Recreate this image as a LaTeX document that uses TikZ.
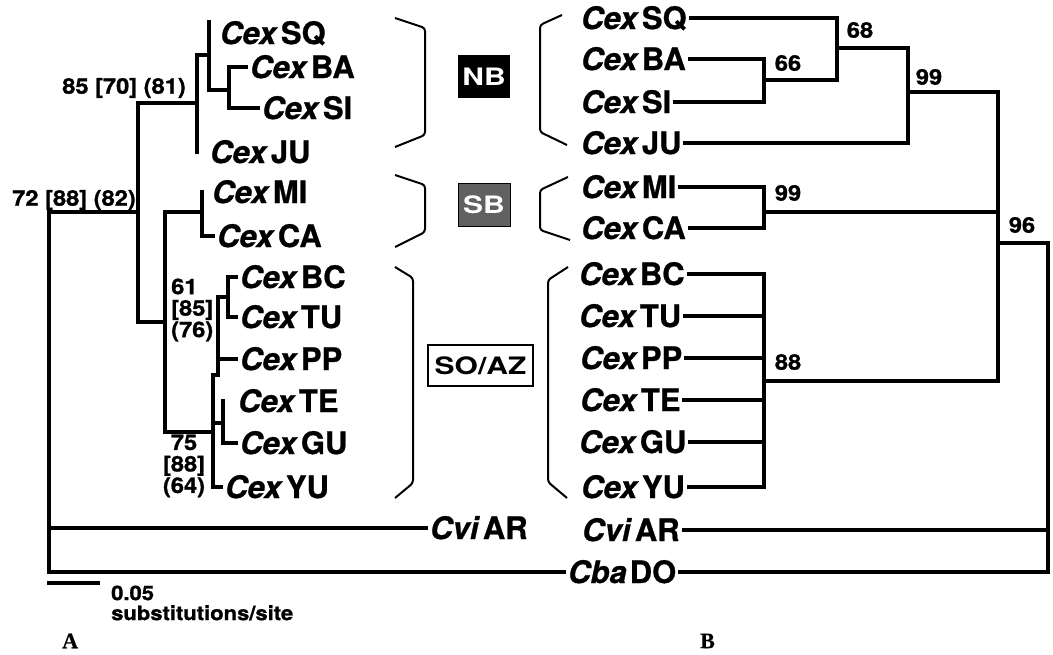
\documentclass[tikz,border=0pt]{standalone}
\usepackage{fontspec}
\setmainfont{TeX Gyre Heros}[BoldFeatures={FakeBold=0.8}, BoldItalicFeatures={FakeBold=0.8}]
\newfontfamily\widefont{TeX Gyre Heros}[FakeStretch=1.1, BoldFeatures={FakeBold=1.2}]
\newfontfamily\boxfont{TeX Gyre Heros}[FakeStretch=1.25]
\newfontfamily\panelfont{Liberation Serif Bold}[FakeBold=0.6]
\newcommand{\taxon}[2]{\textit{#1}\hspace{3pt}#2}

\begin{document}
\begin{tikzpicture}[x=1pt, y=-1pt,
  leaf/.style={font=\fontsize{31}{31}\selectfont\bfseries, anchor=west,
    inner xsep=4pt, inner ysep=0pt, text height=22pt, text depth=0pt},
  boot/.style={font=\widefont\fontsize{21.5}{21.5}\selectfont\bfseries, inner sep=0pt},
  branchA/.style={line width=3.2pt, line cap=rect},
  branchB/.style={line width=4.5pt, line cap=rect},
  brace/.style={line width=2pt, rounded corners=3pt},
  clade/.style={font=\boxfont\fontsize{24}{24}\selectfont\bfseries,
    minimum width=52pt, minimum height=43pt, inner sep=0pt}]
  \useasboundingbox (0,0) rectangle (1053,654);

  % Tree A: leaves
  \node[leaf] (lSQ) at (216,33) {\taxon{Cex}{SQ}};
  \node[leaf] (lBA) at (246,67) {\taxon{Cex}{BA}};
  \node[leaf] (lSI) at (258,108) {\taxon{Cex}{SI}};
  \node[leaf] (lJU) at (206,152) {\taxon{Cex}{JU}};
  \node[leaf] (lMI) at (208,192) {\taxon{Cex}{MI}};
  \node[leaf] (lCA) at (213,236) {\taxon{Cex}{CA}};
  \node[leaf] (lBC) at (236,277) {\taxon{Cex}{BC}};
  \node[leaf] (lTU) at (236,317) {\taxon{Cex}{TU}};
  \node[leaf] (lPP) at (236,359) {\taxon{Cex}{PP}};
  \node[leaf] (lTE) at (234,401) {\taxon{Cex}{TE}};
  \node[leaf] (lGU) at (236,443) {\taxon{Cex}{GU}};
  \node[leaf] (lYU) at (221,487) {\taxon{Cex}{YU}};
  \node[leaf] (lCvi) at (426,528) {\taxon{Cvi}{AR}};
  \node[leaf] (CbaDO) at (564,572) {\taxon{Cba}{DO}};

  % Tree A: internal nodes
  \coordinate (rootA) at (49,212);
  \coordinate (n72) at (138,212);
  \coordinate (n85) at (197,103);
  \coordinate (nSQBA) at (209,55);
  \coordinate (nBASI) at (229,90);
  \coordinate (nSOSB) at (165,322);
  \coordinate (nSB) at (202,212);
  \coordinate (n75) at (213,432);
  \coordinate (n61) at (218,375);
  \coordinate (nBCTU) at (228,297);
  \coordinate (nTEGU) at (223,423);

  % Tree A: branches
  \draw[branchA] (n72) -- (rootA) |- (CbaDO.west);
  \draw[branchA] (rootA |- lCvi.west) -- (lCvi.west);
  \draw[branchA] (n85) -| (n72) |- (nSOSB);
  \draw[branchA] (nSQBA) -| (n85) -- (n85 |- lJU.west);
  \draw[branchA] (nSQBA |- lSQ.north) |- (nBASI);
  \draw[branchA] (lBA.west) -| (nBASI) |- (lSI.west);
  \draw[branchA] (nSB) -| (nSOSB) |- (n75);
  \draw[branchA] (nSB |- lMI.west) |- (lCA.west);
  \draw[branchA] (n61) -- (n61 -| n75) |- (lYU.west);
  \draw[branchA] (n75 |- nTEGU) -- (nTEGU);
  \draw[branchA] (nBCTU) -| (n61);
  \draw[branchA] (n61 |- lPP.west) -- (lPP.west);
  \draw[branchA] (lBC.west) -| (nBCTU) |- (lTU.west);
  \draw[branchA] (nTEGU |- lTE.west) |- (lGU.west);

  % Tree A: support values
  \node[boot, anchor=east] (b72) at (136,200) {72 [88] (82)};
  \node[boot, anchor=east] (b85) at (186,88) {85 [70] (81)};
  \node[boot, anchor=west, align=left] (b61) at (171,310) {61\\{[85]}\\(76)};
  \node[boot, align=center] (b75) at (184,466) {75\\{[88]}\\(64)};

  % Groups
  \draw[brace] (395,18) -- (425,28) -- (425,135) -- (395,147);
  \draw[brace] (562,15) -- (540,25) -- (540,132) -- (567,145);
  \draw[brace] (395,175) -- (425,185) -- (425,232) -- (395,247);
  \draw[brace] (568,177) -- (540,190) -- (540,230) -- (570,240);
  \draw[brace] (395,267) -- (413,278) -- (413,483) -- (395,498);
  \draw[brace] (568,267) -- (548,280) -- (548,482) -- (567,498);
  \node[clade, fill=black, text=white] (NB) at (484,76.5) {NB};
  \node[clade, fill=black!62, draw=black, line width=1pt, text=white] (SB) at (484,204.5) {SB};
  \node[clade, draw=black, line width=1.5pt, minimum width=105pt, minimum height=41pt] (SOAZ) at (480.5,365.5) {SO/AZ};

  % Tree B: leaves
  \node[leaf] (rSQ) at (577,18) {\taxon{Cex}{SQ}};
  \node[leaf] (rBA) at (577,59) {\taxon{Cex}{BA}};
  \node[leaf] (rSI) at (577,102) {\taxon{Cex}{SI}};
  \node[leaf] (rJU) at (577,143) {\taxon{Cex}{JU}};
  \node[leaf] (rMI) at (577,187) {\taxon{Cex}{MI}};
  \node[leaf] (rCA) at (577,228) {\taxon{Cex}{CA}};
  \node[leaf] (rBC) at (575,274) {\taxon{Cex}{BC}};
  \node[leaf] (rTU) at (575,316) {\taxon{Cex}{TU}};
  \node[leaf] (rPP) at (576,358) {\taxon{Cex}{PP}};
  \node[leaf] (rTE) at (576,400) {\taxon{Cex}{TE}};
  \node[leaf] (rGU) at (575,442) {\taxon{Cex}{GU}};
  \node[leaf] (rYU) at (577,487) {\taxon{Cex}{YU}};
  \node[leaf] (rCvi) at (578,530) {\taxon{Cvi}{AR}};

  % Tree B: internal nodes
  \coordinate (nr66) at (764,80);
  \coordinate (nr68) at (837,48);
  \coordinate (nr99) at (908,92);
  \coordinate (nrSB) at (764,212);
  \coordinate (nr88) at (764,381);
  \coordinate (nrIn) at (998,243);
  \coordinate (nr96) at (1048,243);

  % Tree B: branches
  \draw[branchB] (rSQ.east) -| (nr68) -| (nr99) -| (nrIn) -- (nr96) |- (CbaDO.east);
  \draw[branchB] (rBA.east) -| (nr66) |- (rSI.east);
  \draw[branchB] (nr66) -| (nr68);
  \draw[branchB] (rJU.east) -| (nr99);
  \draw[branchB] (rMI.east) -| (nrSB) |- (rCA.east);
  \draw[branchB] (nrSB) -| (nrIn);
  \draw[branchB] (rBC.east) -| (nr88) |- (rYU.east);
  \draw[branchB] (rTU.east) -- (rTU.east -| nr88);
  \draw[branchB] (rPP.east) -- (rPP.east -| nr88);
  \draw[branchB] (rTE.east) -- (rTE.east -| nr88);
  \draw[branchB] (rGU.east) -- (rGU.east -| nr88);
  \draw[branchB] (nr88) -| (nrIn);
  \draw[branchB] (rCvi.east) -| (nr96);

  % Tree B: support values
  \node[boot] (b68) at (860,30) {68};
  \node[boot] (b66) at (788,63) {66};
  \node[boot] (b99a) at (929,77) {99};
  \node[boot] (b99b) at (788,193) {99};
  \node[boot] (b96) at (1022,225) {96};
  \node[boot] (b88) at (788,362) {88};

  % Scale bar and panel letters
  \coordinate (barL) at (47,583);
  \draw[line width=4pt] (barL) -- ++(53,0);
  \node[font=\widefont\fontsize{20}{20}\selectfont\bfseries, anchor=west, align=left, inner sep=0pt] (scale) at (111,603) {0.05\\substitutions/site};
  \node[font=\panelfont\fontsize{22}{22}\selectfont, anchor=west, inner sep=0pt] (panelA) at (62,641) {A};
  \node[font=\panelfont\fontsize{22}{22}\selectfont, anchor=west, inner sep=0pt] (panelB) at (700,641) {B};
\end{tikzpicture}
\end{document}
